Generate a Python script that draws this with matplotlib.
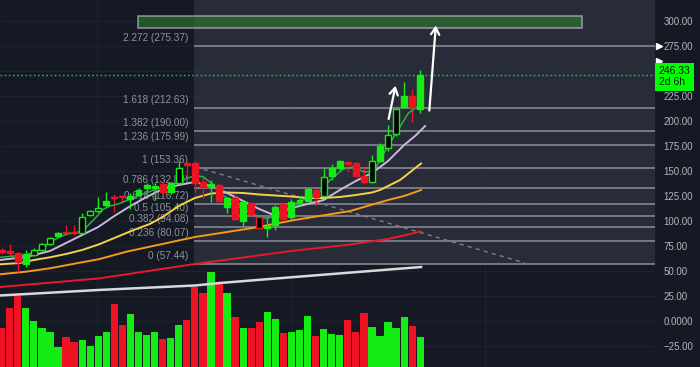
import matplotlib
matplotlib.use("Agg")
import matplotlib.pyplot as plt
import matplotlib.transforms as mtransforms
from matplotlib.patches import Rectangle
import numpy as np

plt.rcParams["font.family"] = ["Liberation Sans", "DejaVu Sans"]

# daily candles (open, high, low, close) and candle style
opens = [71, 70.3, 67.7, 56.7, 66, 71, 77, 85, 89.3, 89, 88.3, 106, 110, 115.7, 124.3, 125, 122, 126,
         133, 133, 137, 129, 138, 157.7, 157.7, 139.3, 135.3, 136, 114.3, 123.3, 100.3, 117.7, 93.3,
         93.5, 96, 116.7, 103.7, 119.5, 120.3, 131, 125, 145.3, 153.3, 159.3, 157.7, 145.3, 139.3,
         160.3, 172.7, 187, 214.3, 225.3, 211.7]
highs = [73, 77, 69, 71, 73, 78, 84, 89, 96, 96, 108, 111, 123.7, 129.3, 127, 126.3, 127.7, 133,
         138, 138, 139, 139, 160, 159.3, 160, 144.3, 141, 137, 124, 126, 121, 119, 105,
         104, 116, 118, 122, 125, 133, 132, 152.7, 157, 161, 160, 159, 154, 166,
         178, 196, 213, 239.3, 231.7, 251]
lows = [67, 65, 49.3, 54.3, 65, 70, 76, 84, 86, 86, 87, 105, 109, 114, 109.3, 119, 111.7, 125,
        130, 121, 127, 127, 137, 142.7, 129, 123.3, 119.3, 119, 107.7, 101, 95.3, 104, 93,
        84, 91, 100, 101, 115, 119, 116, 124, 141, 150, 149, 144, 137, 138,
        159, 170, 185, 213, 199.3, 207.7]
closes = [69, 67.7, 59.3, 66.7, 71, 77, 83.3, 88.3, 87.7, 88, 104.3, 110, 113.3, 120.3, 122.7, 123.7, 125.3, 131,
          136, 135, 129, 138, 153, 156, 137.7, 134.3, 136.7, 120, 123.3, 102, 119.3, 106.7, 104.3,
          95, 114.3, 101.7, 119.3, 121, 131.7, 124.3, 144.3, 152.7, 160.3, 156.7, 145.3, 139.3, 160.3,
          175, 186, 211.7, 225.3, 214.3, 246.33]
styles = ["r", "r", "r", "g", "hg", "hg", "hg", "g", "r", "r", "hg", "hg", "hg", "g", "r", "r", "g", "g",
          "g", "g", "r", "g", "hg", "r", "r", "r", "g", "r", "g", "r", "g", "r", "hr",
          "g", "g", "r", "g", "g", "g", "r", "hg", "g", "g", "r", "r", "r", "hg",
          "g", "hg", "hg", "g", "r", "g"]
volumes = [39, 59, 71, 59, 46, 39, 35, 20, 30, 25, 27, 21, 31, 35, 63, 42, 53, 35,
           32, 35, 28, 29, 42, 47, 80, 74, 95, 83, 74, 50, 39, 39, 45,
           55, 48, 34, 35, 37, 51, 31, 38, 33, 32, 47, 35, 54, 40,
           31, 45, 39, 50, 41, 30]

# moving averages (candle index, price)
ma_fast_x = [-0.2, 2.9, 3.9, 5.0, 6.0, 7.0, 8.1, 9.3, 10.4, 11.4, 12.6, 13.5, 14.7, 15.9, 17.2, 17.8,
             19.5, 21.1, 22.4, 24, 25, 26.1, 27.3, 28.6, 29.8, 31.5, 32.7, 34, 34.6, 36.2, 37.9,
             39.5, 40.8, 42.4, 43.7, 44.9, 46.2, 47, 48.2, 49.5, 50.5, 51.6, 52.2]
ma_fast_y = [63.7, 66, 68.3, 72.7, 78.3, 83.3, 87, 88.3, 92.7, 101, 111.7, 115, 117.7, 121.7, 126, 127.7,
             132.7, 136, 141, 145.3, 144.3, 137.7, 126, 121, 112.7, 106, 102.7, 104.3, 108.3, 116, 122.7,
             129.3, 141, 151.7, 154.3, 149.3, 149.3, 161, 177.7, 194.3, 207.7, 214.3, 219.3]
ma_lav_x = [-0.2, 3, 6, 8, 10, 12, 14, 16, 18, 20, 22, 24, 26, 28, 30, 32, 33.5, 34.5, 36, 38, 40,
            42, 44, 46, 48, 50, 51.5, 52.6]
ma_lav_y = [61, 64, 70, 78, 86, 94, 105, 115, 124, 132, 136, 139, 135, 128, 120, 112, 107, 108, 113, 117, 121,
            131, 140, 148, 160, 176, 186, 195]
ma_yel_x = [-0.2, 2.3, 4, 6, 8, 10, 12.2, 14.3, 16.4, 18.4, 20, 22, 24, 26, 28, 30, 32, 34, 36, 38, 40,
            42, 44, 46, 47, 49.5, 52.1]
ma_yel_y = [56.7, 58, 61, 63.7, 67, 71, 77, 84, 91, 97, 104, 115, 123, 127.5, 128.5, 128, 126.5, 125.5,
            124.5, 123, 123, 124, 126, 128.5, 131, 141, 157.5]
ma_ora_x = [-0.2, 3, 6, 9.3, 12.2, 15.5, 18.4, 24, 31.2, 36.4, 43.3, 45, 48, 50, 52.1]
ma_ora_y = [46.7, 49.3, 52.7, 57.7, 62, 69.3, 74.3, 84, 93, 101, 110, 114, 121, 125, 131]
ma_red_x = [-0.2, 12, 24, 36, 43.3, 48, 52.1]
ma_red_y = [34, 42.5, 57, 70, 76.5, 82, 89.5]
ma_wht_x = [-0.2, 12, 24, 27.1, 39.5, 52.1]
ma_wht_y = [25.5, 31, 35.5, 38, 46, 54]

fib_ratios = ["0", "0.236", "0.382", "0.5", "0.618", "0.786", "1", "1.236", "1.382", "1.618", "2.272"]
fib_prices = [57.44, 80.07, 94.08, 105.40, 116.72, 132.83, 153.36, 175.99, 190.00, 212.63, 275.37]

price_ticks = [-25, 0, 25, 50, 75, 100, 125, 150, 175, 200, 225, 275, 300]
last_price = 246.33

bg = "#151924"
green = "#14ec14"
red = "#ee1322"
text_gray = "#8f929b"

fig = plt.figure(figsize=(7, 3.67), dpi=100, facecolor=bg)
ax = fig.add_axes([0, 0, 655 / 700, 1])
vol_ax = ax.twinx()
ax.set_zorder(vol_ax.get_zorder() + 1)
ax.patch.set_visible(False)
vol_ax.patch.set_visible(True)
vol_ax.set_facecolor(bg)

x_left, x_right = -0.205, 81.16
ax.set_xlim(x_left, x_right)
ax.set_ylim(-46, 321)
vol_ax.set_ylim(0, 367)

# grid (drawn on the back axes so it stays under the volume bars)
ytrans = mtransforms.blended_transform_factory(vol_ax.transAxes, ax.transData)
vol_ax.hlines(price_ticks + [250], 0, 1, transform=ytrans, color="#1f2330", lw=0.7, zorder=0)
for gx in [11.8, 35.9, 60.0]:
    vol_ax.axvline(gx, color="#1f2330", lw=0.7, zorder=0)

# volume
x = np.arange(len(opens))
is_up = np.array([s in ("g", "hg") for s in styles])
vol_colors = np.where(is_up, green, red)
vol_ax.bar(x, volumes, width=0.9, color=vol_colors, zorder=2)

# fib retracement box
fib_start = 23.9
ax.add_patch(Rectangle((fib_start, fib_prices[0]), x_right - fib_start, 330 - fib_prices[0],
                       facecolor="#3a3f4c", alpha=0.5, lw=0, zorder=0.5))
ax.hlines(fib_prices, fib_start, x_right, color="#7d808a", lw=1.3, zorder=1)
for r, p in zip(fib_ratios, fib_prices):
    ax.text(23.19, p + 8, f"{r} ({p:.2f})", ha="right", va="center", fontsize=7.2,
            color=text_gray, zorder=1.5)

# target box
ax.add_patch(Rectangle((16.9, 293), 72.1 - 16.9, 12, facecolor="#2e7d32", alpha=0.6,
                       edgecolor="#c9cccf", lw=1.2, zorder=2))

# last price line
ax.axhline(last_price, color="#1fc23f", lw=1.0, ls=(0, (1.2, 1.8)), zorder=1)

# dashed trend line
ax.plot([24.1, 65.0], [154, 58], color="#7d808a", lw=1, ls=(0, (3, 3)), zorder=2)

# moving averages
ax.plot(ma_wht_x, ma_wht_y, color="#d9d9dc", lw=1.8, zorder=3)
ax.plot(ma_red_x, ma_red_y, color="#e8192c", lw=1.4, zorder=3)
ax.plot(ma_ora_x, ma_ora_y, color="#f59a1b", lw=1.4, zorder=3)
ax.plot(ma_yel_x, ma_yel_y, color="#f4d24a", lw=1.4, zorder=3)
ax.plot(ma_lav_x, ma_lav_y, color="#cdb7d9", lw=1.4, zorder=3)

# candles
for i in range(len(opens)):
    col = green if is_up[i] else red
    face = "black" if styles[i].startswith("h") else col
    ax.vlines(x[i], lows[i], highs[i], color=col, lw=1, zorder=4)
    ax.bar(x[i], max(abs(closes[i] - opens[i]), 1.2), 0.74, bottom=min(opens[i], closes[i]),
           color=face, edgecolor=col, lw=1, zorder=5)

ax.plot(ma_fast_x, ma_fast_y, color="#27b04a", lw=1.1, zorder=4.5)

# projection arrows
arrow = dict(arrowstyle="->,head_length=0.5,head_width=0.3", color="white", lw=1.6)
ax.annotate("", xy=(49.0, 238), xytext=(48.0, 199.3), arrowprops=arrow, zorder=6)
ax.annotate("", xy=(53.96, 298.3), xytext=(53.1, 207.7), arrowprops=arrow, zorder=6)

# right price scale
ax.yaxis.tick_right()
ax.set_yticks(price_ticks)
ax.set_yticklabels(["0.0000" if t == 0 else f"{t:.2f}".replace("-", "\u2212") for t in price_ticks])
ax.tick_params(axis="y", length=0, pad=6, labelsize=7, labelcolor="#b2b5be")
ax.set_xticks([])
vol_ax.set_yticks([])
for a in (ax, vol_ax):
    for s in a.spines.values():
        s.set_visible(False)

btrans = mtransforms.blended_transform_factory(ax.transAxes, ax.transData)
ax.plot([1.006, 1.006], [275.37, 260], marker=">", color="white", ms=4, ls="none",
        transform=btrans, clip_on=False, zorder=6)
ax.text(1.006, last_price - 2, "246.33\n2d 6h", transform=btrans, ha="left", va="center",
        fontsize=7.5, color="#0b1a0b", linespacing=1.05, zorder=7,
        bbox=dict(boxstyle="square,pad=0.35", facecolor="#00ff00", edgecolor="none"))

fig.savefig("out.png", dpi=100, facecolor=bg)
